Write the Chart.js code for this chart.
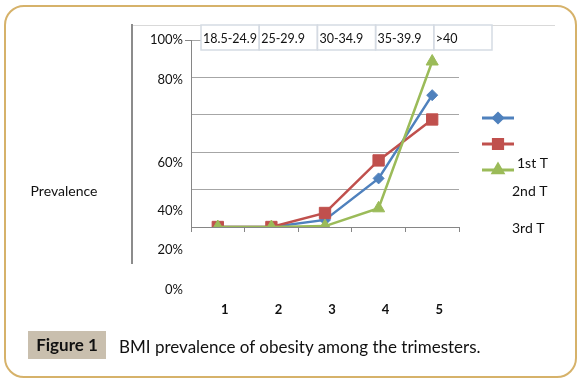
<!DOCTYPE html>
<html>
<head>
<meta charset="utf-8">
<script src="https://cdn.jsdelivr.net/npm/chart.js@4"></script>
<style>
  html, body { margin: 0; padding: 0; background: #fff; }
  #wrap { position: relative; width: 580px; height: 385px; overflow: hidden; font-family: Lato, "Open Sans", sans-serif; }
  #frame { position: absolute; left: 4px; top: 5px; width: 569px; height: 369px; border: 2px solid #d6b26a; border-radius: 20px; }
  #chart { position: absolute; left: 0; top: 0; }
  #figno { position: absolute; left: 28px; top: 331px; width: 78px; height: 28px; background: #c9bfae;
           font-weight: bold; font-size: 17px; line-height: 28px; text-align: center; color: #111; }
  #caption { position: absolute; left: 119px; top: 333px; font-size: 17px; line-height: 28px; color: #111; }
</style>
</head>
<body>
<div id="wrap">
  <canvas id="chart" width="580" height="385"></canvas>
  <div id="frame"></div>
  <div id="figno">Figure 1</div>
  <div id="caption">BMI prevalence of obesity among the trimesters.</div>
</div>
<script>
// data
const categories = ['1', '2', '3', '4', '5'];
const bmiGroups = ['18.5-24.9', '25-29.9', '30-34.9', '35-39.9', '>40'];
const seriesNames = ['1st T', '2nd T', '3rd T'];
const firstT = [0, 0, 3.8, 26, 70.5];
const secondT = [0, 0, 7.5, 35.6, 57.5];
const thirdT = [0, 0, 0.5, 10, 88.5];
const yTickLabels = ['100%', '80%', '60%', '40%', '20%', '0%'];
// where each y label ended up in the original (in axis units)
const yLabelAt = [100, 78.6, 34.2, 8.7, -12.3, -33.7];

const COLORS = ['#4f81bd', '#c0504d', '#9bbb59'];
const STYLES = ['rectRot', 'rect', 'triangle'];
const RADII = [5.5, 8, 7];
const LEGEND_RADII = [4.5, 6.5, 5.5];
const FONT = 'Lato, "Open Sans", sans-serif';

// legend text positions (misplaced in the original)
const legendText = [[517, 163], [512, 191], [512, 228]];

const decorations = {
  id: 'decorations',
  beforeDraw(chart) {
    const ctx = chart.ctx;
    ctx.save();
    // inner frame
    ctx.strokeStyle = '#d9d9d9';
    ctx.lineWidth = 1;
    ctx.beginPath();
    ctx.moveTo(132, 25.5);
    ctx.lineTo(555, 25.5);
    ctx.stroke();
    ctx.strokeStyle = '#8c8c8c';
    ctx.lineWidth = 2;
    ctx.beginPath();
    ctx.moveTo(132, 24);
    ctx.lineTo(132, 264);
    ctx.stroke();
    ctx.restore();
  },
  afterDraw(chart) {
    const ctx = chart.ctx;
    const xs = chart.scales.x, ys = chart.scales.y;
    const area = chart.chartArea;
    ctx.save();

    // tick at 100%
    ctx.strokeStyle = '#868686';
    ctx.lineWidth = 1;
    ctx.beginPath();
    ctx.moveTo(area.left - 6, Math.round(ys.getPixelForValue(100)) + 0.5);
    ctx.lineTo(area.left, Math.round(ys.getPixelForValue(100)) + 0.5);
    ctx.stroke();

    // header table with the BMI groups
    const hx = 201, hy = 25, hw = 58.2, hh = 25;
    ctx.fillStyle = '#fff';
    ctx.fillRect(hx, hy, hw * bmiGroups.length, hh);
    ctx.strokeStyle = '#d5dbe3';
    ctx.lineWidth = 1.5;
    ctx.font = '12.5px ' + FONT;
    ctx.textBaseline = 'middle';
    ctx.textAlign = 'left';
    bmiGroups.forEach((g, i) => {
      ctx.strokeRect(hx + i * hw, hy, hw, hh);
      ctx.fillStyle = '#111';
      ctx.fillText(g, hx + i * hw + 2, hy + hh / 2 + 1);
    });

    // y labels
    ctx.fillStyle = '#111';
    ctx.font = '13px ' + FONT;
    ctx.textAlign = 'right';
    yTickLabels.forEach((t, i) => {
      ctx.fillText(t, 183, ys.getPixelForValue(yLabelAt[i]));
    });

    // x labels
    ctx.font = 'bold 13px ' + FONT;
    ctx.textAlign = 'center';
    categories.forEach((c, i) => {
      ctx.fillText(c, xs.getPixelForValue(i) + 7, 310);
    });

    // axis title
    ctx.font = '14px ' + FONT;
    ctx.fillText('Prevalence', 64, 191);

    // legend
    for (let i = 0; i < seriesNames.length; i++) {
      const y = 118 + i * 26;
      ctx.strokeStyle = COLORS[i];
      ctx.lineWidth = 3;
      ctx.beginPath();
      ctx.moveTo(482, y);
      ctx.lineTo(514, y);
      ctx.stroke();
      ctx.fillStyle = COLORS[i];
      Chart.helpers.drawPoint(ctx, {pointStyle: STYLES[i], radius: LEGEND_RADII[i], rotation: 0, borderWidth: 1}, 498, y);
      ctx.fill();
    }
    ctx.fillStyle = '#111';
    ctx.font = '14px ' + FONT;
    ctx.textAlign = 'left';
    seriesNames.forEach((n, i) => {
      ctx.fillText(n, legendText[i][0], legendText[i][1]);
    });
    ctx.restore();
  }
};

const values = [firstT, secondT, thirdT];

new Chart(document.getElementById('chart'), {
  type: 'line',
  data: {
    labels: categories,
    datasets: values.map((v, i) => ({
      label: seriesNames[i],
      data: v,
      borderColor: COLORS[i],
      backgroundColor: COLORS[i],
      borderWidth: 2.5,
      pointStyle: STYLES[i],
      pointRadius: RADII[i],
      pointBorderWidth: 1,
      tension: 0,
      order: 2 - i
    }))
  },
  options: {
    responsive: false,
    animation: false,
    events: [],
    layout: {padding: {left: 191, right: 121, top: 40, bottom: 153}},
    plugins: {legend: {display: false}, tooltip: {enabled: false}},
    scales: {
      x: {
        offset: true,
        ticks: {display: false},
        grid: {offset: true, drawOnChartArea: false, tickLength: 5, color: '#868686'},
        border: {color: '#868686', width: 1}
      },
      y: {
        min: 0,
        max: 100,
        ticks: {display: false, stepSize: 20},
        grid: {drawTicks: false, color: '#a6a6a6'},
        border: {color: '#868686', width: 1}
      }
    }
  },
  plugins: [decorations]
});
</script>
</body>
</html>
